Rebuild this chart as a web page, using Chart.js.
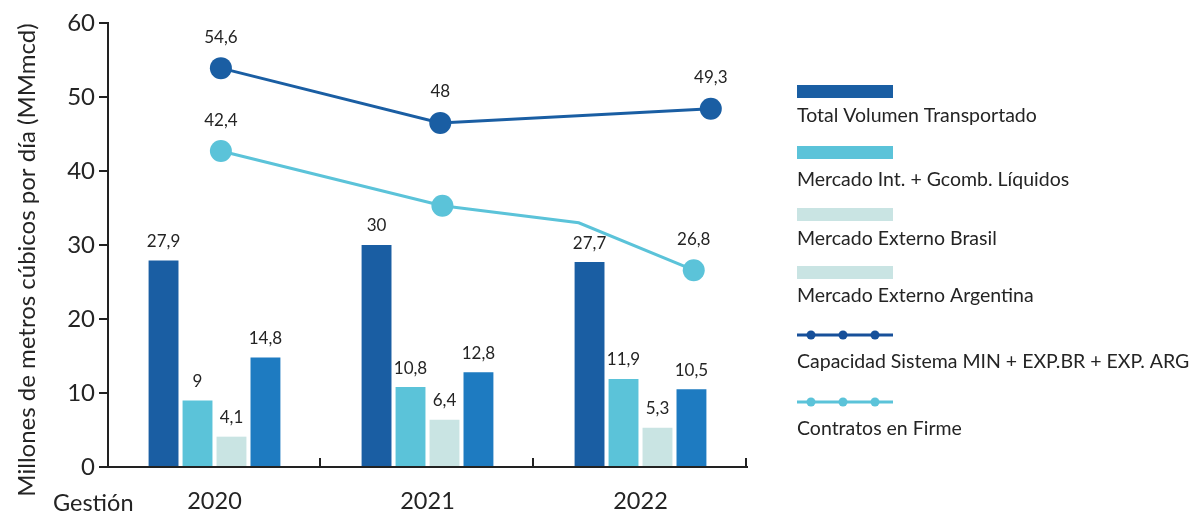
<!DOCTYPE html>
<html>
<head>
<meta charset="utf-8">
<script src="https://cdn.jsdelivr.net/npm/chart.js@4"></script>
<style>
  html, body { margin: 0; padding: 0; background: #fff; }
  #wrap { width: 1196px; height: 515px; position: relative; }
</style>
</head>
<body>
<div id="wrap"><canvas id="myChart" width="1196" height="515"></canvas></div>
<script>
// categories and series
const years = ["2020", "2021", "2022"];
const totalVol = [27.9, 30, 27.7];
const mercadoInt = [9, 10.8, 11.9];
const extBrasil = [4.1, 6.4, 5.3];
const extArgentina = [14.8, 12.8, 10.5];

// line series, x in category units (2020 spans 0..1, 2021 1..2, 2022 2..3) as placed in the picture
const capX = [0.53, 1.56, 2.83];
const capY = [53.9, 46.5, 48.4];
const capLabels = ["54,6", "48", "49,3"];
const firmeX = [0.53, 1.57, 2.21, 2.75];
const firmeY = [42.7, 35.3, 33.0, 26.6];
const firmeLabels = ["42,4", "", "", "26,8"];
const firmeRadius = [11, 11, 0, 11];

const yTicks = [0, 10, 20, 30, 40, 50, 60];

const DARK = "#1a5ea3";
const CYAN = "#5bc3d9";
const PALE = "#c9e4e3";
const MID = "#1e7bc1";
const TXT = "#242424";
const FONT = "Lato, 'Open Sans', sans-serif";

function fmt(v) { return String(v).replace(".", ","); }

function toPoints(xs, ys) {
  var pts = [];
  for (var i = 0; i < xs.length; i++) pts.push({ x: xs[i], y: ys[i] });
  return pts;
}

// bars sit in the middle of each year's slot
function barPoints(vals) {
  return vals.map(function (v, i) { return { x: i + 0.5, y: v }; });
}

// legend entries drawn on the right
const legendItems = [
  { text: "Total Volumen Transportado", color: DARK, kind: "bar" },
  { text: "Mercado Int. + Gcomb. Líquidos", color: CYAN, kind: "bar" },
  { text: "Mercado Externo Brasil", color: PALE, kind: "bar" },
  { text: "Mercado Externo Argentina", color: PALE, kind: "bar" },
  { text: "Capacidad Sistema MIN + EXP.BR + EXP. ARG", color: "#17509a", kind: "line" },
  { text: "Contratos en Firme", color: CYAN, kind: "line" }
];
const legendSwatchY = [91, 152, 214, 272, 335, 402];
const legendTextY = [116, 180, 239, 296, 362, 429];

const extras = {
  id: "extras",
  afterDatasetsDraw(chart) {
    const ctx = chart.ctx;
    const x = chart.scales.x;
    const y = chart.scales.y;
    ctx.save();

    // inner ticks on x axis at year boundaries
    ctx.strokeStyle = "#222";
    ctx.lineWidth = 2;
    for (var i = 1; i <= years.length; i++) {
      var px = Math.round(x.getPixelForValue(i)) - 1;
      ctx.beginPath();
      ctx.moveTo(px, y.bottom);
      ctx.lineTo(px, y.bottom - 9);
      ctx.stroke();
    }

    // bar value labels
    ctx.fillStyle = TXT;
    ctx.font = "17px " + FONT;
    ctx.textAlign = "center";
    ctx.textBaseline = "middle";
    for (var d = 0; d < 4; d++) {
      var meta = chart.getDatasetMeta(d);
      meta.data.forEach(function (el, j) {
        ctx.fillText(fmt(chart.data.datasets[d].data[j].y), el.x, el.y - 19);
      });
    }

    // line value labels
    var lineSets = [[4, capLabels], [5, firmeLabels]];
    lineSets.forEach(function (ls) {
      var meta = chart.getDatasetMeta(ls[0]);
      meta.data.forEach(function (el, j) {
        if (ls[1][j]) ctx.fillText(ls[1][j], el.x, el.y - 31);
      });
    });

    // "Gestión" label
    ctx.font = "23.5px " + FONT;
    ctx.textAlign = "left";
    ctx.fillText("Gestión", 53, 503);

    // y axis title
    ctx.save();
    ctx.translate(27, 260);
    ctx.rotate(-Math.PI / 2);
    ctx.textAlign = "center";
    ctx.font = "24px " + FONT;
    ctx.fillText("Millones de metros cúbicos por día (MMmcd)", 0, 0);
    ctx.restore();

    // legend
    ctx.font = "19.5px " + FONT;
    ctx.textAlign = "left";
    legendItems.forEach(function (it, k) {
      var sy = legendSwatchY[k];
      if (it.kind === "bar") {
        ctx.fillStyle = it.color;
        ctx.fillRect(797, sy - 6, 96, 13);
      } else {
        ctx.strokeStyle = it.color;
        ctx.lineWidth = 3;
        ctx.beginPath();
        ctx.moveTo(797, sy);
        ctx.lineTo(893, sy);
        ctx.stroke();
        ctx.fillStyle = it.color;
        [811, 843, 875].forEach(function (cx) {
          ctx.beginPath();
          ctx.arc(cx, sy, 4.5, 0, Math.PI * 2);
          ctx.fill();
        });
      }
      ctx.fillStyle = TXT;
      ctx.fillText(it.text, 797, legendTextY[k]);
    });

    ctx.restore();
  }
};

new Chart("myChart", {
  type: "bar",
  data: {
    datasets: [
      { label: "Total Volumen Transportado", data: barPoints(totalVol), backgroundColor: DARK, order: 2 },
      { label: "Mercado Int. + Gcomb. Líquidos", data: barPoints(mercadoInt), backgroundColor: CYAN, order: 2 },
      { label: "Mercado Externo Brasil", data: barPoints(extBrasil), backgroundColor: PALE, order: 2 },
      { label: "Mercado Externo Argentina", data: barPoints(extArgentina), backgroundColor: MID, order: 2 },
      {
        type: "line", label: "Capacidad Sistema MIN + EXP.BR + EXP. ARG",
        data: toPoints(capX, capY),
        borderColor: DARK, backgroundColor: DARK, borderWidth: 3,
        pointRadius: 11, pointBorderWidth: 0, order: 1
      },
      {
        type: "line", label: "Contratos en Firme",
        data: toPoints(firmeX, firmeY),
        borderColor: CYAN, backgroundColor: CYAN, borderWidth: 3,
        pointRadius: firmeRadius, pointBorderWidth: 0, order: 1
      }
    ]
  },
  options: {
    responsive: false,
    animation: false,
    layout: { padding: { top: 23, right: 449, bottom: 0, left: 0 } },
    datasets: {
      bar: { categoryPercentage: 0.638, barPercentage: 0.88 }
    },
    plugins: {
      legend: { display: false },
      tooltip: { enabled: false }
    },
    scales: {
      x: {
        type: "linear",
        offset: false,
        min: 0,
        max: 3,
        afterBuildTicks: function (s) {
          s.ticks = years.map(function (yr, i) { return { value: i + 0.5 }; });
        },
        grid: { display: false, drawTicks: false, offset: false },
        border: { display: true, color: "#222", width: 2 },
        ticks: {
          color: TXT, font: { family: FONT, size: 23.5 }, padding: 20,
          autoSkip: false, maxRotation: 0,
          callback: function (v) { return years[Math.floor(v)]; }
        },
        afterFit: function (s) { s.height = 48; }
      },
      y: {
        min: 0,
        max: 60,
        afterBuildTicks: function (s) { s.ticks = yTicks.map(function (v) { return { value: v }; }); },
        grid: { drawOnChartArea: false, drawTicks: true, tickLength: 9, color: "#222", lineWidth: 2 },
        border: { display: true, color: "#222", width: 2 },
        ticks: { color: TXT, font: { family: FONT, size: 24 }, padding: 4 },
        afterFit: function (s) { s.width = 108; }
      }
    }
  },
  plugins: [extras]
});
</script>
</body>
</html>
